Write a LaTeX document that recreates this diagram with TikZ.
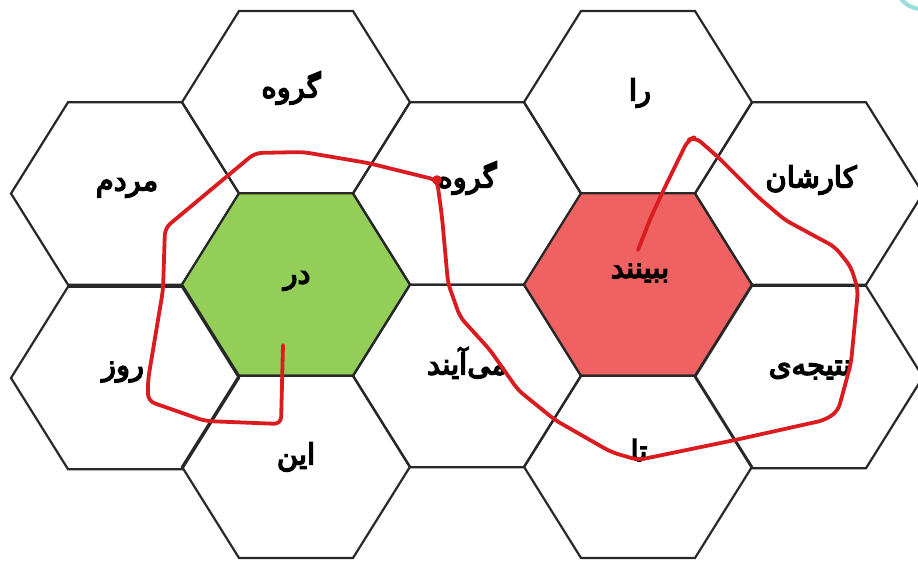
\documentclass[tikz,border=0pt]{standalone}
\usepackage{fontspec}
\TeXXeTstate=1
\newfontfamily\fa[Script=Arabic,BoldFont={DejaVu Sans},BoldFeatures={FakeBold=5}]{DejaVu Sans}
\definecolor{hexgreen}{RGB}{146,206,88}
\definecolor{hexred}{RGB}{240,98,98}
\definecolor{hexline}{RGB}{40,40,40}
\definecolor{pen}{RGB}{218,28,32}
\definecolor{tealmark}{RGB}{150,222,218}
\tikzset{
  cell/.style={draw=hexline, line width=2.2pt, line join=miter},
  word/.style={font=\fa\bfseries\fontsize{29}{29}\selectfont, text=black, inner sep=0pt},
  scribble/.style={draw=pen, line width=3.8pt, rounded corners=7pt, line cap=round, line join=round},
}
\newcommand\hexcell[3]{%
  \path[cell,#3] ({#1-114},{#2}) -- ({#1-57},{#2-91.2}) -- ({#1+57},{#2-91.2})
    -- ({#1+114},{#2}) -- ({#1+57},{#2+91.2}) -- ({#1-57},{#2+91.2}) -- cycle;}
\begin{document}
\begin{tikzpicture}[x=1pt,y=-1pt]
\useasboundingbox (0,0) rectangle (918,562);
\clip (0,0) rectangle (918,562);
\fill[white] (0,0) rectangle (918,562);
% hexagon grid
\hexcell{125}{193.5}{}
\hexcell{125}{378}{}
\hexcell{296}{102.2}{}
\hexcell{296}{284.5}{fill=hexgreen}
\hexcell{296}{466.8}{}
\hexcell{467}{193.5}{}
\hexcell{467}{376}{}
\hexcell{638}{102.2}{}
\hexcell{638}{284.5}{fill=hexred}
\hexcell{638}{466.8}{}
\hexcell{809}{193.5}{}
\hexcell{809}{377}{}
% words
\node[word] (w1) at (291,88) {\beginR گروه\endR};
\node[word] (w2) at (127,188) {\beginR مردم\endR};
\node[word] (w3) at (467,178) {\beginR گروه\endR};
\node[word] (w4) at (640,93) {\beginR را\endR};
\node[word] (w5) at (811,180) {\beginR کارشان\endR};
\node[word] (w6) at (297,281) {\beginR در\endR};
\node[word] (w7) at (640,273) {\beginR ببینند\endR};
\node[word] (w8) at (123,372) {\beginR روز\endR};
\node[word] (w9) at (467,363) {\beginR می‌آیند\endR};
\node[word] (w10) at (810,370) {\beginR نتیجه‌ی\endR};
\node[word] (w11) at (296,457) {\beginR این\endR};
\node[word] (w12) at (639,450) {\beginR تا\endR};
% red freehand loop
\draw[scribble] (283,345) -- (281,424) -- (205,421) -- (148,401) -- (148,380)
  -- (163,290) -- (165,228) -- (255,153) -- (303,152) -- (368,163) -- (437,180)
  -- (442,217) -- (448,283) -- (460,317) -- (490,350) -- (518,390) -- (555,420)
  -- (611,452) -- (638,460) -- (735,440) -- (825,420) -- (838,411) -- (851,363)
  -- (858,290) -- (851,267) -- (835,247) -- (785,220) -- (758,197) -- (718,157)
  -- (695,137) -- (688,140) -- (665,187) -- (651,217) -- (638,250);
\fill[pen] (437,180) circle (4.8);
% teal corner mark
\draw[tealmark, line width=4pt] (901,-1) .. controls (906,5) and (912,8) .. (919,9);
\end{tikzpicture}
\end{document}
